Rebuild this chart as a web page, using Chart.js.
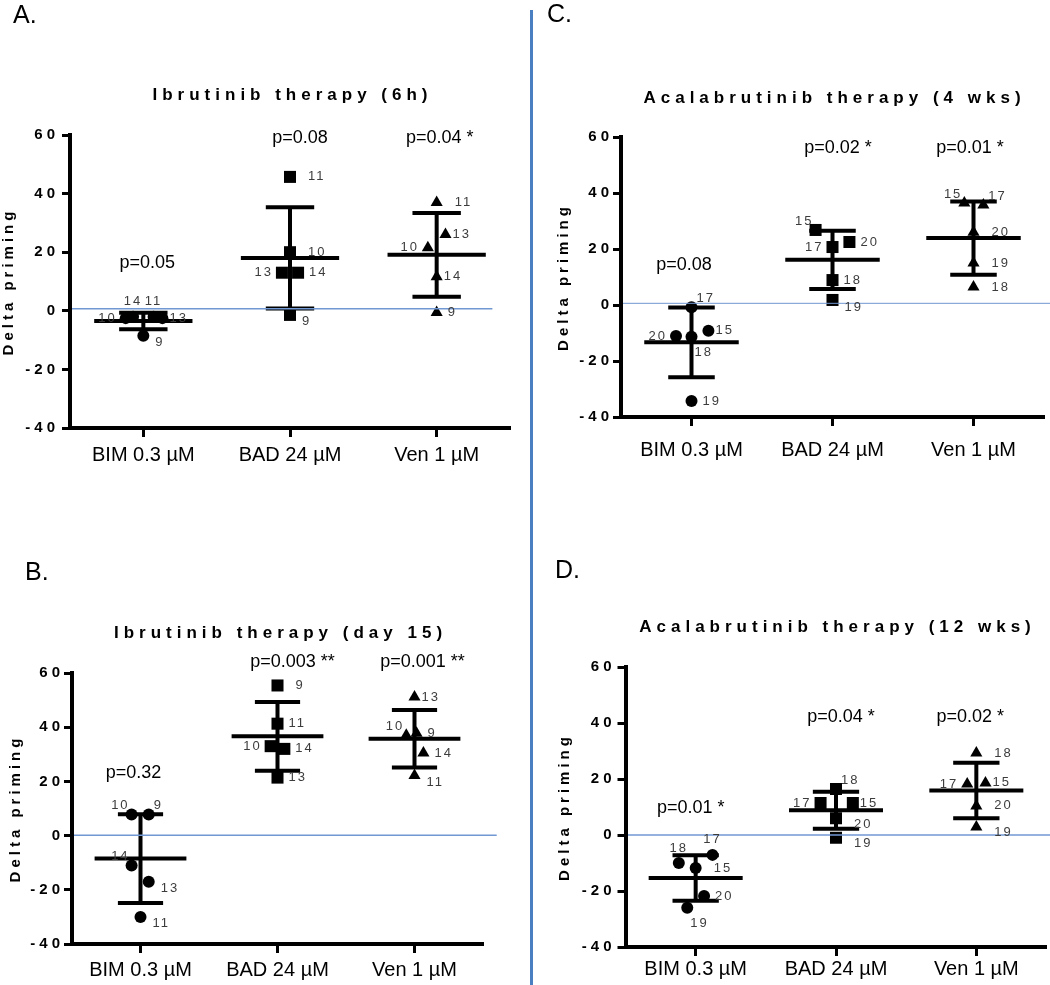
<!DOCTYPE html>
<html>
<head>
<meta charset="utf-8">
<script src="https://cdn.jsdelivr.net/npm/chart.js@4.4.1/dist/chart.umd.min.js"></script>
<style>
  body { margin: 0; background: #fff; }
  #page { position: relative; width: 1050px; height: 985px; overflow: hidden; background: #fff; }
  canvas { position: absolute; }
  #divider { position: absolute; left: 530px; top: 10px; width: 3px; height: 975px; background: #4a7fc1; }
</style>
</head>
<body>
<div id="page">
  <div id="divider"></div>
  <canvas id="panelA" width="525" height="475" style="left:0;top:0"></canvas>
  <canvas id="panelB" width="525" height="505" style="left:0;top:480px"></canvas>
  <canvas id="panelC" width="510" height="475" style="left:540px;top:0"></canvas>
  <canvas id="panelD" width="510" height="505" style="left:540px;top:480px"></canvas>
</div>
<script>
const categories = ['BIM 0.3 µM', 'BAD 24 µM', 'Ven 1 µM'];
const yTicks = [-40, -20, 0, 20, 40, 60];

// A. Ibrutinib therapy (6h) - patient ids and delta priming per peptide
const idsA = [[10, 14, 11, 13, 9], [11, 10, 13, 14, 9], [11, 13, 10, 14, 9]];
const valuesA = [[-2.5, -2, -2, -2.5, -8.5], [45.7, 20, 13, 13, -1.4], [37, 26, 21.5, 11.6, -0.6]];
const pValuesA = ['p=0.05', 'p=0.08', 'p=0.04 *'];

// B. Ibrutinib therapy (day 15)
const idsB = [[10, 9, 14, 13, 11], [9, 11, 10, 14, 13], [13, 10, 9, 14, 11]];
const valuesB = [[7.8, 7.8, -11, -17, -30], [55.4, 41.3, 33, 32, 21.4], [51.1, 37, 37.8, 30.5, 22.2]];
const pValuesB = ['p=0.32', 'p=0.003 **', 'p=0.001 **'];

// C. Acalabrutinib therapy (4 wks)
const idsC = [[17, 20, 18, 15, 19], [15, 20, 17, 18, 19], [15, 17, 20, 19, 18]];
const valuesC = [[-0.8, -11.1, -11.3, -9.2, -34.3], [26.8, 22.5, 20.7, 8.9, 1.8], [36.4, 35.7, 26, 15, 6.4]];
const pValuesC = ['p=0.08', 'p=0.02 *', 'p=0.01 *'];

// D. Acalabrutinib therapy (12 wks)
const idsD = [[18, 17, 15, 20, 19], [18, 17, 15, 20, 19], [18, 17, 15, 20, 19]];
const valuesD = [[-10, -7.1, -11.8, -21.8, -26], [16.4, 11.4, 11.4, 6, -1], [29.3, 18.2, 18.6, 10.4, 2.9]];
const pValuesD = ['p=0.01 *', 'p=0.04 *', 'p=0.02 *'];

// scatter jitter (category units) and where each id label sits
const jitterA = [[-0.12, -0.07, 0.07, 0.13, 0], [0, 0, -0.055, 0.055, 0], [0, 0.06, -0.06, 0, 0]];
const sidesA = [['l', 't', 't', 'rn', 'br'], ['R', 'R', 'l', 'r', 'br'], ['R', 'rn', 'l', 'rn', 'r']];
const jitterB = [[-0.065, 0.06, -0.065, 0.06, 0], [0, 0, -0.05, 0.05, 0], [0, -0.06, 0.015, 0.065, 0]];
const sidesB = [['tl', 'tr', 'tl', 'br', 'br'], ['R', 'r', 'l', 'r', 'r'], ['rn', 'tl', 'r', 'r', 'br']];
const jitterC = [[0, -0.11, 0, 0.12, 0], [-0.12, 0.12, 0, 0, 0], [-0.065, 0.07, 0, 0, 0]];
const sidesC = [['tr', 'l', 'bl', 'rn', 'r'], ['tl', 'r', 'l', 'r', 'br'], ['tl', 'tr', 'R', 'R', 'R']];
const jitterD = [[-0.12, 0.12, 0, 0.06, -0.06], [0, -0.11, 0.12, 0, 0], [0, -0.065, 0.065, 0, 0]];
const sidesD = [['t', 't', 'R', 'r', 'bl'], ['tr', 'l', 'rn', 'bR', 'bR'], ['R', 'l', 'rn', 'R', 'bR']];

const FONT = "'Liberation Sans', Arial, Helvetica, sans-serif";
Chart.defaults.font.family = FONT;
Chart.defaults.color = '#000';

const markerStyles = ['circle', 'rect', 'triangle'];
const markerRadius = [6, 8.5, 7];

const labelOffsets = {
    r: [11, 0, 'left'], rn: [7, 0, 'left'], R: [18, 0, 'left'], l: [-11, 0, 'right'],
    t: [0, -15, 'center'], tr: [5, -9, 'left'], tl: [-4, -9, 'right'],
    br: [12, 7, 'left'], bR: [18, 6, 'left'], bl: [3, 16, 'left']
};

const panels = [
    { id: 'panelA', letter: 'A.', title: 'Ibrutinib therapy (6h)',
      ids: idsA, values: valuesA, pValues: pValuesA, jitter: jitterA, sides: sidesA,
      ref: 0.7, refEnd: 3.38, refWidth: 1.5,
      pad: { left: 0, top: 135, right: 15, bottom: 0 }, yWidth: 70, xHeight: 47, yTickPad: 3, xTickPad: 6,
      titleX: 290, titleY: 95, letterX: 13, letterY: 23, pY: [16.3, 59, 59], pDx: [4, 10, 3] },
    { id: 'panelB', letter: 'B.', title: 'Ibrutinib therapy (day 15)',
      ids: idsB, values: valuesB, pValues: pValuesB, jitter: jitterB, sides: sidesB,
      ref: 0.1, refEnd: 3.6, refWidth: 1.5,
      pad: { left: 7, top: 193, right: 42, bottom: 0 }, yWidth: 65, xHeight: 41, yTickPad: 0, xTickPad: 5,
      titleX: 278, titleY: 153, letterX: 25, letterY: 100, pY: [23.1, 64.1, 64.1], pDx: [-7, 15, 8] },
    { id: 'panelC', letter: 'C.', title: 'Acalabrutinib therapy (4 wks)',
      ids: idsC, values: valuesC, pValues: pValuesC, jitter: jitterC, sides: sidesC,
      ref: 0.6, refEnd: 3.6, refWidth: 1,
      pad: { left: 14.4, top: 137, right: 6, bottom: 0 }, yWidth: 66.6, xHeight: 58, yTickPad: 0, xTickPad: 12,
      titleX: 292, titleY: 98, letterX: 7, letterY: 22, pY: [14.3, 56.1, 56.1], pDx: [-7.5, 5.5, -3.5] },
    { id: 'panelD', letter: 'D.', title: 'Acalabrutinib therapy (12 wks)',
      ids: idsD, values: valuesD, pValues: pValuesD, jitter: jitterD, sides: sidesD,
      ref: 0, refEnd: 3.6, refWidth: 1.5,
      pad: { left: 16, top: 187, right: 3.5, bottom: 0 }, yWidth: 69.5, xHeight: 38, yTickPad: 2, xTickPad: 1,
      titleX: 295, titleY: 147, letterX: 15, letterY: 98, pY: [9.6, 42.1, 42.1], pDx: [-5, 5, -6] }
];

// MEAN AND SAMPLE SD
function meanSd(arr) {
    const m = arr.reduce((a, b) => a + b, 0) / arr.length;
    const v = arr.reduce((a, b) => a + (b - m) * (b - m), 0) / (arr.length - 1);
    return [m, Math.sqrt(v)];
}

// mean line, sd whisker and caps as one broken line
function errorBars(c, vals) {
    const [m, sd] = meanSd(vals);
    return [
        { x: c - 0.335, y: m }, { x: c + 0.335, y: m }, { x: c, y: null },
        { x: c, y: m - sd }, { x: c, y: m + sd }, { x: c, y: null },
        { x: c - 0.165, y: m + sd }, { x: c + 0.165, y: m + sd }, { x: c, y: null },
        { x: c - 0.165, y: m - sd }, { x: c + 0.165, y: m - sd }
    ];
}

function buildChart(p) {

    const datasets = [{
        data: [{ x: 0.5, y: p.ref }, { x: p.refEnd, y: p.ref }],
        showLine: true, borderColor: '#7098d2', borderWidth: p.refWidth,
        pointRadius: 0, clip: false
    }];

    p.values.forEach((vals, g) => {
        datasets.push({
            data: errorBars(g + 1, vals),
            showLine: true, borderColor: '#000', borderWidth: 4,
            pointRadius: 0, spanGaps: false
        });
    });

    const first = datasets.length;

    p.values.forEach((vals, g) => {
        datasets.push({
            data: vals.map((v, i) => ({ x: g + 1 + p.jitter[g][i], y: v })),
            pointStyle: markerStyles[g], pointRadius: markerRadius[g],
            backgroundColor: '#000', borderColor: '#000', borderWidth: 0,
            showLine: false
        });
    });

    const textPlugin = {
        id: 'panelText',
        beforeDraw(chart) {
            chart.ctx.letterSpacing = '0px';
        },
        beforeDatasetsDraw(chart) {
            // the y axis (z: 1) is drawn after the datasets, its text spaced out
            chart.ctx.letterSpacing = '4px';
        },
        afterDatasetsDraw(chart) {
            const ctx = chart.ctx;
            ctx.save();
            ctx.letterSpacing = '2px';
            ctx.font = '13px ' + FONT;
            ctx.fillStyle = '#3c3c3c';
            ctx.textBaseline = 'middle';
            p.ids.forEach((ids, g) => {
                const meta = chart.getDatasetMeta(first + g);
                ids.forEach((id, i) => {
                    const pt = meta.data[i];
                    const [dx, dy, align] = labelOffsets[p.sides[g][i]];
                    ctx.textAlign = align;
                    ctx.fillText(String(id), pt.x + dx + (align === 'right' ? 2 : 0), pt.y + dy);
                });
            });
            ctx.restore();
        },
        afterDraw(chart) {
            const ctx = chart.ctx;
            const xs = chart.scales.x;
            const ys = chart.scales.y;
            ctx.save();
            ctx.letterSpacing = '0px';
            ctx.fillStyle = '#000';

            // P VALUES
            ctx.font = '18px ' + FONT;
            ctx.textAlign = 'center';
            ctx.textBaseline = 'middle';
            p.pValues.forEach((txt, g) => {
                ctx.fillText(txt, xs.getPixelForValue(g + 1) + p.pDx[g], ys.getPixelForValue(p.pY[g]));
            });

            // PANEL LETTER
            ctx.font = '25px ' + FONT;
            ctx.textAlign = 'left';
            ctx.textBaseline = 'alphabetic';
            ctx.fillText(p.letter, p.letterX, p.letterY);

            // TITLE
            ctx.letterSpacing = '5px';
            ctx.font = 'bold 17px ' + FONT;
            ctx.textAlign = 'center';
            ctx.textBaseline = 'middle';
            ctx.fillText(p.title, p.titleX + 2.5, p.titleY);

            ctx.restore();
            ctx.letterSpacing = '0px';
        }
    };

    return new Chart(document.getElementById(p.id), {
        type: 'scatter',
        data: { datasets: datasets },
        options: {
            responsive: false,
            animation: false,
            events: [],
            layout: { padding: p.pad, autoPadding: false },
            plugins: {
                legend: { display: false },
                tooltip: { enabled: false }
            },
            scales: {
                x: {
                    type: 'linear', min: 0.5, max: 3.5,
                    afterBuildTicks: s => { s.ticks = categories.map((c, i) => ({ value: i + 1 })); },
                    afterFit: s => { s.height = p.xHeight; },
                    ticks: {
                        callback: v => categories[v - 1],
                        font: { size: 20 }, color: '#000',
                        padding: p.xTickPad, maxRotation: 0, autoSkip: false
                    },
                    grid: { drawOnChartArea: false, tickLength: 9, tickWidth: 3, tickColor: '#000' },
                    border: { width: 4, color: '#000' }
                },
                y: {
                    min: -40, max: 60,
                    afterBuildTicks: s => { s.ticks = yTicks.map(v => ({ value: v })); },
                    afterFit: s => { s.width = p.yWidth; },
                    ticks: {
                        font: { size: 15, weight: 'bold' }, color: '#000',
                        padding: p.yTickPad, z: 1
                    },
                    grid: { drawOnChartArea: false, tickLength: 8, tickWidth: 3, tickColor: '#000', z: 1 },
                    border: { width: 4, color: '#000', z: 1 },
                    title: {
                        display: true, text: 'Delta priming',
                        font: { size: 15, weight: 'bold' }, color: '#000', padding: 0
                    }
                }
            }
        },
        plugins: [textPlugin]
    });
}

panels.forEach(buildChart);
</script>
</body>
</html>
